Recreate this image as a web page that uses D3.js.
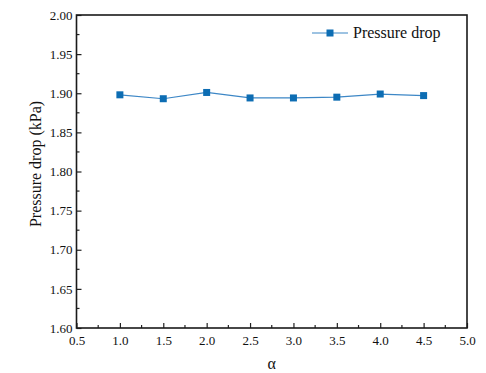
<!DOCTYPE html>
<html>
<head>
<meta charset="utf-8">
<script src="https://cdn.jsdelivr.net/npm/d3@7"></script>
<style>
  body { margin: 0; background: #fff; }
  svg text { font-family: "Liberation Serif", "Times New Roman", serif; fill: #111; }
</style>
</head>
<body>
<div id="chart"></div>
<script>
const alphaValues = [1.0, 1.5, 2.0, 2.5, 3.0, 3.5, 4.0, 4.5];
const pressureDrop = [1.898, 1.893, 1.901, 1.894, 1.894, 1.895, 1.899, 1.897];
const xTicks = [0.5, 1.0, 1.5, 2.0, 2.5, 3.0, 3.5, 4.0, 4.5, 5.0];
const yTicks = [1.60, 1.65, 1.70, 1.75, 1.80, 1.85, 1.90, 1.95, 2.00];
const seriesName = "Pressure drop";

const width = 486;
const height = 373;
const margin = { top: 15, right: 19, bottom: 45, left: 76.5 };
const serif = "'Liberation Serif', 'Times New Roman', serif";

const svg = d3.select("#chart")
    .append("svg")
    .attr("width", width)
    .attr("height", height)
    .attr("font-family", serif);

const x = d3.scaleLinear().domain([0.5, 5.0]).range([margin.left, width - margin.right]);
const y = d3.scaleLinear().domain([1.60, 2.00]).range([height - margin.bottom, margin.top]);

const blue = "#0d6db3";
const lineBlue = "#3d87c6";

// minor ticks (midpoints)
const xMinor = d3.range(0.75, 5.0, 0.5);
const yMinor = d3.range(1.625, 2.0, 0.05);

const xAxis = svg.append("g")
    .attr("transform", `translate(0,${y.range()[0]})`)
    .call(d3.axisBottom(x).tickValues(xTicks).tickSizeInner(-5).tickSizeOuter(0).tickPadding(8).tickFormat(d3.format(".1f")))
    .attr("font-family", serif)
    .attr("font-size", 13);
xAxis.select(".domain").remove();
xAxis.selectAll("line").attr("stroke", "#222").attr("stroke-width", 1.2);
xAxis.selectAll("text").style("font-family", serif).style("font-size", "13px").attr("fill", "#111");

svg.append("g").selectAll("line").data(xMinor).join("line")
    .attr("x1", d => x(d)).attr("x2", d => x(d))
    .attr("y1", y.range()[0]).attr("y2", y.range()[0] - 3)
    .attr("stroke", "#222").attr("stroke-width", 1.2);

const yAxis = svg.append("g")
    .attr("transform", `translate(${x.range()[0]},0)`)
    .call(d3.axisLeft(y).tickValues(yTicks).tickSizeInner(-5).tickSizeOuter(0).tickPadding(4).tickFormat(d3.format(".2f")))
    .attr("font-family", serif)
    .attr("font-size", 13);
yAxis.select(".domain").remove();
yAxis.selectAll("line").attr("stroke", "#222").attr("stroke-width", 1.2);
yAxis.selectAll("text").style("font-family", serif).style("font-size", "13px").attr("fill", "#111");

svg.append("g").selectAll("line").data(yMinor).join("line")
    .attr("x1", x.range()[0]).attr("x2", x.range()[0] + 3)
    .attr("y1", d => y(d)).attr("y2", d => y(d))
    .attr("stroke", "#222").attr("stroke-width", 1.2);

// frame
svg.append("rect")
    .attr("x", x.range()[0])
    .attr("y", y.range()[1])
    .attr("width", x.range()[1] - x.range()[0])
    .attr("height", y.range()[0] - y.range()[1])
    .attr("fill", "none")
    .attr("stroke", "#1a1a1a")
    .attr("stroke-width", 1.6);

// series
const points = alphaValues.map((a, i) => ({ a: a, p: pressureDrop[i] }));

svg.append("path")
    .datum(points)
    .attr("fill", "none")
    .attr("stroke", lineBlue)
    .attr("stroke-width", 1.2)
    .attr("d", d3.line().x(d => x(d.a)).y(d => y(d.p)));

const markerSize = 7;
svg.append("g").selectAll("rect").data(points).join("rect")
    .attr("x", d => x(d.a) - markerSize / 2)
    .attr("y", d => y(d.p) - markerSize / 2)
    .attr("width", markerSize)
    .attr("height", markerSize)
    .attr("fill", blue);

// axis titles
svg.append("text")
    .attr("transform", "translate(41,164) rotate(-90)")
    .attr("text-anchor", "middle")
    .style("font-family", serif)
    .style("font-size", "16px")
    .text("Pressure drop (kPa)");

svg.append("text")
    .attr("x", (x.range()[0] + x.range()[1]) / 2)
    .attr("y", 369)
    .attr("text-anchor", "middle")
    .style("font-family", serif)
    .style("font-size", "16px")
    .text("α");

// legend
const legend = svg.append("g").attr("transform", "translate(312,33)");
legend.append("line")
    .attr("x1", 0).attr("x2", 36).attr("y1", 0).attr("y2", 0)
    .attr("stroke", lineBlue).attr("stroke-width", 1.2);
legend.append("rect")
    .attr("x", 18 - markerSize / 2).attr("y", -markerSize / 2)
    .attr("width", markerSize).attr("height", markerSize)
    .attr("fill", blue);
legend.append("text")
    .attr("x", 41).attr("y", 5)
    .style("font-family", serif)
    .style("font-size", "16px")
    .text(seriesName);
</script>
</body>
</html>
